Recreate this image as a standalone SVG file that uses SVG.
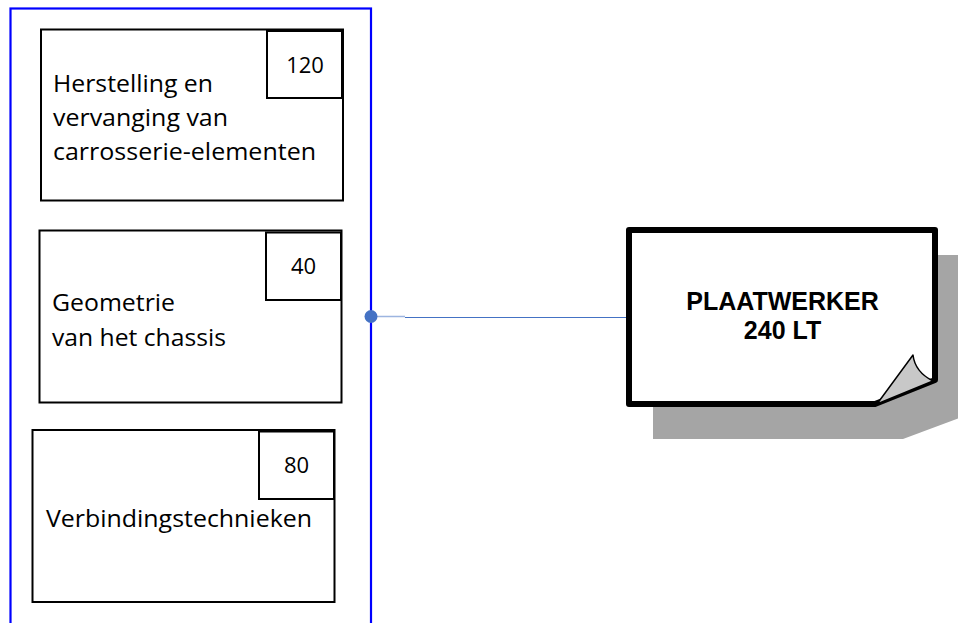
<svg xmlns="http://www.w3.org/2000/svg" width="958" height="623" viewBox="0 0 958 623">
<style>
.box{fill:#fff;stroke:#000;stroke-width:2}
.num{fill:#fff;stroke:#000;stroke-width:2}
.t{font-family:"Open Sans","Liberation Sans",sans-serif;font-size:24px;fill:#000}
.n{font-family:"Open Sans","Liberation Sans",sans-serif;font-size:22px;fill:#000;text-anchor:middle}
.b{font-family:"Liberation Sans",Arial,sans-serif;font-size:25px;font-weight:bold;fill:#000;text-anchor:middle}
</style>
<rect width="958" height="623" fill="#fff"/>
<g id="container">
<rect x="10.5" y="8.5" width="360.5" height="640" fill="none" stroke="#0000FF" stroke-width="2.2"/>
</g>
<g id="box1">
<rect class="box" x="41" y="29.5" width="302" height="171"/>
<rect class="num" x="267" y="31" width="75" height="67"/>
<text class="n" x="305" y="72.5">120</text>
<text class="t" x="53" y="92" textLength="160" lengthAdjust="spacingAndGlyphs">Herstelling en</text>
<text class="t" x="53" y="126" textLength="175" lengthAdjust="spacingAndGlyphs">vervanging van</text>
<text class="t" x="53" y="160" textLength="263" lengthAdjust="spacingAndGlyphs">carrosserie-elementen</text>
</g>
<g id="box2">
<rect class="box" x="39.5" y="230.5" width="302" height="172"/>
<rect class="num" x="266" y="232.5" width="75" height="67.5"/>
<text class="n" x="303.5" y="274">40</text>
<text class="t" x="52" y="311" textLength="123" lengthAdjust="spacingAndGlyphs">Geometrie</text>
<text class="t" x="52" y="346" textLength="174" lengthAdjust="spacingAndGlyphs">van het chassis</text>
</g>
<g id="box3">
<rect class="box" x="32.5" y="430" width="302" height="172"/>
<rect class="num" x="259" y="431.5" width="75" height="67.5"/>
<text class="n" x="296.5" y="473">80</text>
<text class="t" x="46" y="527" textLength="266" lengthAdjust="spacingAndGlyphs">Verbindingstechnieken</text>
</g>
<g id="connectors">
<line x1="371" y1="316.5" x2="405" y2="316.5" stroke="#9DB5E0" stroke-width="1.5"/>
<line x1="405" y1="317.5" x2="628" y2="317.5" stroke="#4472C4" stroke-width="1"/>
<circle cx="371" cy="316.5" r="6.5" fill="#4472C4"/>
</g>
<g id="plaatwerker">
<polygon points="653,255 965,255 965,416 903,439 653,439" fill="#A5A5A5"/>
<path d="M629,230 H935 V380 L875,404 H629 Z" fill="#fff" stroke="#000" stroke-width="6" stroke-linejoin="round"/>
<path d="M877,404 L913,355 Q915,372 933,381 Z" fill="#C8C8C8" stroke="#000" stroke-width="1.5" stroke-linejoin="round"/>
<text class="b" x="782.5" y="310">PLAATWERKER</text>
<text class="b" x="782.5" y="339">240 LT</text>
</g>
</svg>
